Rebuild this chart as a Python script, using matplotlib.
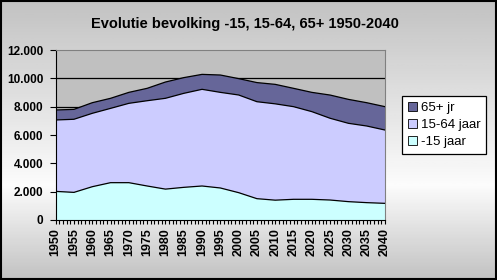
import numpy as np
import matplotlib
matplotlib.use("Agg")
import matplotlib.pyplot as plt
from matplotlib.ticker import FuncFormatter, MultipleLocator
from matplotlib.patches import Rectangle

years = [1950, 1955, 1960, 1965, 1970, 1975, 1980, 1985, 1990, 1995,
         2000, 2005, 2010, 2015, 2020, 2025, 2030, 2035, 2040]
young = [2020, 1950, 2350, 2635, 2635, 2400, 2180, 2305, 2400, 2260,
         1930, 1505, 1400, 1460, 1460, 1410, 1295, 1225, 1175]
working = [5040, 5160, 5180, 5245, 5600, 6020, 6410, 6635, 6825, 6750,
           6895, 6845, 6800, 6540, 6190, 5770, 5530, 5410, 5175]
old = [705, 700, 750, 710, 775, 875, 1150, 1110, 1055, 1225,
       1155, 1350, 1375, 1295, 1360, 1640, 1690, 1645, 1650]
labels = ["-15 jaar", "15-64 jaar", "65+ jr"]
colors = ["#CCFFFF", "#CCCCFF", "#666699"]
title = "Evolutie bevolking -15, 15-64, 65+ 1950-2040"

plt.rcParams['font.family'] = ['Liberation Sans', 'DejaVu Sans']

fig = plt.figure(figsize=(4.97, 2.80), dpi=100)

# background gradient
bg = fig.add_axes([0, 0, 1, 1], zorder=-10)
grad = np.concatenate([np.linspace(0.76, 0.985, 66), np.linspace(0.985, 0.76, 34)])
bg.imshow(grad[:, None], aspect='auto', cmap='gray', vmin=0, vmax=1,
          extent=[0, 1, 0, 1], origin='upper')
bg.set_axis_off()
bg.add_patch(Rectangle((0.002, 0.003), 0.996, 0.994, transform=bg.transAxes,
                       fill=False, edgecolor='black', lw=1.5))

ax = fig.add_axes([0.112, 0.2143, 0.6627, 0.6071])
ax.set_facecolor('#C0C0C0')
y = np.array([young, working, old], dtype=float)
cum = np.cumsum(y, axis=0)
base = np.zeros(len(years))
for i in range(3):
    ax.fill_between(years, base, cum[i], facecolor=colors[i], edgecolor='none',
                    zorder=2, label=labels[i])
    ax.plot(years, cum[i], color='black', lw=0.9, zorder=3)
    base = cum[i]

for g in [2000, 4000, 6000, 8000, 10000]:
    ax.axhline(g, color='black', lw=0.9, zorder=1)

ax.set_xlim(1950, 2040)
ax.set_ylim(0, 12000)
ax.yaxis.set_major_locator(MultipleLocator(2000))
ax.yaxis.set_major_formatter(FuncFormatter(lambda v, p: f"{int(v):,}".replace(",", ".")))
ax.set_xticks(years)
ax.set_xticklabels([str(v) for v in years], rotation=90, fontweight='heavy', fontsize=9)
ax.xaxis.set_minor_locator(MultipleLocator(1))
ax.tick_params(axis='x', which='both', direction='out', length=3, width=0.8, pad=3)
ax.tick_params(axis='y', direction='out', length=4, width=0.8, labelsize=8.5, pad=5)
for t in ax.get_yticklabels():
    t.set_fontweight('bold')
for s in ['top', 'right']:
    ax.spines[s].set_color('#808080')
for s in ['left', 'bottom']:
    ax.spines[s].set_color('black')

fig.text(0.4935, 0.915, title, ha='center', va='center', fontsize=10.5, fontweight='bold')

handles, labs = ax.get_legend_handles_labels()
leg = fig.legend(handles[::-1], labs[::-1], loc='center',
                 bbox_to_anchor=(0.8935, 0.554), frameon=True, fancybox=False,
                 edgecolor='black', facecolor='white', framealpha=1,
                 prop={'size': 9.5}, handlelength=0.7, handleheight=0.7,
                 handletextpad=0.3, labelspacing=0.35, borderpad=0.45,
                 borderaxespad=0)
leg.get_frame().set_linewidth(0.9)
for h in leg.legend_handles:
    h.set_edgecolor('black')
    h.set_linewidth(0.6)

fig.savefig("out.png", dpi=100)
